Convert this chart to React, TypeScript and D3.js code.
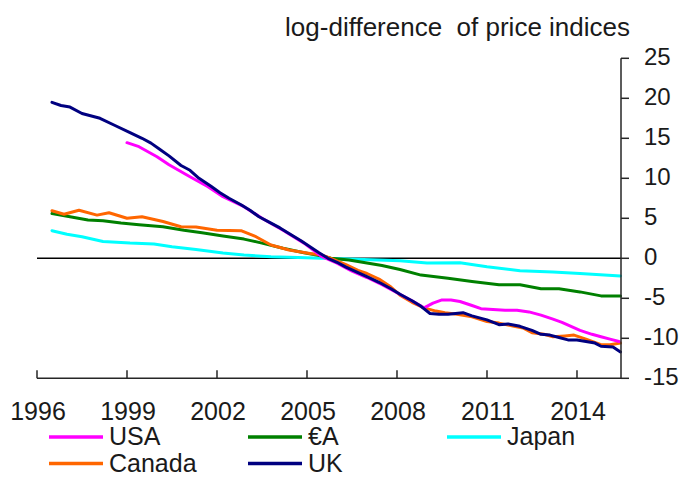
import React, { useRef, useEffect } from 'react';
import * as d3 from 'd3';

// [year, log-difference] readings, one array per country
const usa = [
    [1999.0, 14.45], [1999.4, 13.95], [2000.0, 12.7], [2000.4, 11.7], [2001.1, 10.2],
    [2001.7, 8.95], [2002.2, 7.7], [2002.9, 6.45], [2003.5, 5.0], [2004.2, 3.5],
    [2004.9, 1.9], [2005.5, 0.2], [2006.0, -0.6], [2006.5, -1.6], [2007.0, -2.4],
    [2007.5, -3.3], [2008.0, -4.3], [2008.5, -5.3], [2008.9, -6.2], [2009.2, -5.6],
    [2009.5, -5.2], [2009.8, -5.2], [2010.1, -5.4], [2010.5, -5.9], [2010.8, -6.3],
    [2011.2, -6.4], [2011.6, -6.5], [2012.0, -6.5], [2012.4, -6.7], [2012.8, -7.1],
    [2013.2, -7.6], [2013.5, -8.0], [2013.8, -8.5], [2014.1, -9.0], [2014.5, -9.5],
    [2014.8, -9.8], [2015.1, -10.1], [2015.4, -10.4],
];

const euroArea = [
    [1996.5, 5.6], [1997.1, 5.2], [1997.7, 4.8], [1998.2, 4.7], [1998.8, 4.4],
    [1999.4, 4.2], [2000.2, 3.95], [2000.9, 3.5], [2001.5, 3.2], [2002.2, 2.8],
    [2002.9, 2.4], [2003.5, 1.9], [2004.2, 1.25], [2004.9, 0.7], [2005.5, 0.3],
    [2005.8, 0], [2006.4, -0.2], [2007.0, -0.6], [2007.5, -0.9], [2008.1, -1.4],
    [2008.8, -2.1], [2009.7, -2.5], [2010.5, -2.9], [2011.4, -3.3], [2012.1, -3.3],
    [2012.8, -3.8], [2013.4, -3.8], [2014.1, -4.2], [2014.8, -4.7], [2015.45, -4.7],
];

const japan = [
    [1996.5, 3.45], [1997.0, 3.0], [1997.5, 2.7], [1998.2, 2.1], [1999.1, 1.9],
    [1999.9, 1.8], [2000.5, 1.45], [2001.3, 1.1], [2002.2, 0.66], [2002.9, 0.4],
    [2003.8, 0.2], [2004.7, 0.1], [2005.5, 0], [2006.4, -0.1], [2008.1, -0.3],
    [2009.0, -0.6], [2010.1, -0.55], [2011.0, -1.05], [2012.1, -1.55], [2013.2, -1.7],
    [2014.1, -1.9], [2015.45, -2.2],
];

const canada = [
    [1996.5, 5.95], [1996.9, 5.5], [1997.4, 6.0], [1998.0, 5.4], [1998.4, 5.7],
    [1999.0, 5.0], [1999.5, 5.2], [2000.2, 4.6], [2000.8, 3.95], [2001.3, 3.9],
    [2002.0, 3.5], [2002.8, 3.45], [2003.3, 2.7], [2003.8, 1.66], [2004.4, 1.04],
    [2005.1, 0.6], [2005.5, 0.4], [2005.8, 0], [2006.3, -0.8], [2006.7, -1.5],
    [2007.0, -1.9], [2007.4, -2.6], [2007.8, -3.6], [2008.1, -4.6], [2008.5, -5.5],
    [2008.9, -6.2], [2009.3, -6.6], [2009.6, -6.8], [2010.0, -7.0], [2010.5, -7.3],
    [2011.0, -7.9], [2011.4, -8.1], [2011.9, -8.5], [2012.2, -8.7], [2012.5, -9.3],
    [2012.9, -9.5], [2013.2, -9.8], [2013.6, -9.7], [2013.9, -9.6], [2014.3, -10.1],
    [2014.8, -10.8], [2015.1, -10.8], [2015.45, -10.6],
];

const uk = [
    [1996.5, 19.5], [1996.8, 19.1], [1997.1, 18.9], [1997.5, 18.1], [1998.1, 17.5],
    [1998.6, 16.6], [1999.1, 15.7], [1999.5, 15.0], [1999.8, 14.4], [2000.1, 13.6],
    [2000.4, 12.8], [2000.8, 11.6], [2001.1, 11.0], [2001.4, 10.0], [2001.8, 9.0],
    [2002.1, 8.2], [2002.4, 7.5], [2002.8, 6.7], [2003.1, 6.0], [2003.4, 5.2],
    [2003.8, 4.4], [2004.1, 3.8], [2004.4, 3.1], [2004.8, 2.2], [2005.1, 1.45],
    [2005.4, 0.7], [2005.7, 0], [2006.0, -0.5], [2006.3, -1.1], [2006.7, -1.8],
    [2007.0, -2.3], [2007.4, -3.0], [2007.8, -3.8], [2008.1, -4.5], [2008.5, -5.3],
    [2008.8, -6.0], [2009.1, -6.9], [2009.4, -7.0], [2009.7, -7.0], [2010.2, -6.8],
    [2010.5, -7.2], [2011.0, -7.7], [2011.4, -8.3], [2011.7, -8.2], [2012.1, -8.5],
    [2012.5, -9.0], [2012.8, -9.5], [2013.1, -9.6], [2013.4, -9.9], [2013.7, -10.2],
    [2014.0, -10.2], [2014.3, -10.4], [2014.6, -10.6], [2014.8, -11.0], [2015.2, -11.1],
    [2015.45, -11.7],
];

const yearTicks = [1996, 1999, 2002, 2005, 2008, 2011, 2014];
const valueTicks = [25, 20, 15, 10, 5, 0, -5, -10, -15];

const seriesNames = ['Japan', '€A', 'Canada', 'USA', 'UK'];
const seriesData = [japan, euroArea, canada, usa, uk];
const seriesColors = ['#00ffff', '#008000', '#ff6600', '#ff00ff', '#000080'];

// legend reads in this order, left to right then down
const legendOrder = ['USA', '€A', 'Japan', 'Canada', 'UK'];

const font = '"Liberation Sans", Arial, sans-serif';

function PriceChart() {

    const chartRef = useRef(null);

    useEffect(() => {
        const width = 683;
        const height = 477;

        const x = d3.scaleLinear()
            .domain([1996, 2015.467])
            .range([37, 621]);

        const y = d3.scaleLinear()
            .domain([-15, 25])
            .range([378.3, 58.3]);

        const line = d3.line()
            .x((d) => x(d[0]))
            .y((d) => y(d[1]));

        const svg = d3
            .select(chartRef.current)
            .append('svg')
            .attr('width', width)
            .attr('height', height)
            .style('display', 'block')
            .style('font-family', font);

        svg.append('rect')
            .attr('width', width)
            .attr('height', height)
            .attr('fill', '#fff');

        // title above the value axis
        svg.append('text')
            .attr('x', 630)
            .attr('y', 36)
            .attr('text-anchor', 'end')
            .attr('fill', '#1a1a1a')
            .style('font-size', '26px')
            .style('white-space', 'pre')
            .text('log-difference  of price indices');

        // zero line
        svg.append('line')
            .attr('x1', x.range()[0])
            .attr('x2', x.range()[1])
            .attr('y1', y(0))
            .attr('y2', y(0))
            .attr('stroke', '#000')
            .attr('stroke-width', 1.5);

        const plot = svg.append('g');

        plot.selectAll('.series')
            .data(seriesData)
            .enter()
            .append('path')
            .attr('class', 'series')
            .attr('d', (d) => line(d))
            .attr('fill', 'none')
            .attr('stroke', (d, i) => seriesColors[i])
            .attr('stroke-width', 3)
            .attr('stroke-linejoin', 'round')
            .attr('stroke-linecap', 'round');

        // x axis: line at the bottom, ticks pointing up
        const axisColor = '#262626';
        svg.append('line')
            .attr('x1', x.range()[0])
            .attr('x2', x.range()[1])
            .attr('y1', y(-15))
            .attr('y2', y(-15))
            .attr('stroke', axisColor)
            .attr('stroke-width', 1.5);

        svg.selectAll('.x-tick')
            .data(yearTicks)
            .enter()
            .append('line')
            .attr('class', 'x-tick')
            .attr('x1', (d) => x(d))
            .attr('x2', (d) => x(d))
            .attr('y1', y(-15))
            .attr('y2', y(-15) - 8)
            .attr('stroke', axisColor)
            .attr('stroke-width', 1.5);

        svg.selectAll('.x-label')
            .data(yearTicks)
            .enter()
            .append('text')
            .attr('class', 'x-label')
            .attr('x', (d) => x(d) + 1)
            .attr('y', 420)
            .attr('text-anchor', 'middle')
            .attr('fill', '#1a1a1a')
            .style('font-size', '25px')
            .text((d) => d);

        // y axis on the right, ticks pointing out
        svg.append('line')
            .attr('x1', x.range()[1])
            .attr('x2', x.range()[1])
            .attr('y1', y(25))
            .attr('y2', y(-15))
            .attr('stroke', axisColor)
            .attr('stroke-width', 1.5);

        svg.selectAll('.y-tick')
            .data(valueTicks)
            .enter()
            .append('line')
            .attr('class', 'y-tick')
            .attr('x1', x.range()[1])
            .attr('x2', x.range()[1] + 8)
            .attr('y1', (d) => y(d))
            .attr('y2', (d) => y(d))
            .attr('stroke', axisColor)
            .attr('stroke-width', 1.5);

        svg.selectAll('.y-label')
            .data(valueTicks)
            .enter()
            .append('text')
            .attr('class', 'y-label')
            .attr('x', 644)
            .attr('y', (d) => y(d) + 7)
            .attr('fill', '#1a1a1a')
            .style('font-size', '24px')
            .text((d) => d);

        // legend, three columns
        const legend = svg.selectAll('.legend-item')
            .data(legendOrder)
            .enter()
            .append('g')
            .attr('class', 'legend-item')
            .attr('transform', (d, i) => `translate(${49 + (i % 3) * 199}, ${437 + Math.floor(i / 3) * 26.5})`);

        legend.append('line')
            .attr('x1', 0)
            .attr('x2', 54)
            .attr('stroke', (d) => seriesColors[seriesNames.indexOf(d)])
            .attr('stroke-width', 3.5);

        legend.append('text')
            .attr('x', 60)
            .attr('y', 8)
            .attr('fill', '#1a1a1a')
            .style('font-size', '25px')
            .text((d) => d);

        return () => {
            svg.remove();
        };

    }, []);

    return (
        <div ref={chartRef}
            style={{
                position: 'absolute',
                left: 0,
                top: 0
            }}
        >
        </div>
    )
}

export default function App() {
    return <PriceChart />;
}
